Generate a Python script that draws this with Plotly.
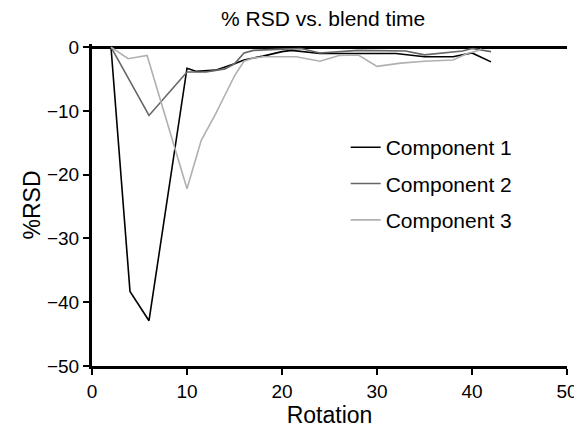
import plotly.graph_objects as go

# ----- data -----
rot_c1 = [2, 4, 6, 10, 11, 13, 15, 16, 18, 20, 21, 24, 28, 32, 35, 38, 40, 42]
rsd_c1 = [0, -38.3, -42.9, -3.3, -3.8, -3.6, -2.6, -2.0, -1.4, -0.7, -0.5, -1.0, -1.0, -1.0, -1.5, -1.5, -0.9, -2.3]

rot_c2 = [2, 6, 10, 12, 14, 15, 16, 17, 20, 22, 24, 28, 33, 35, 39, 40, 42]
rsd_c2 = [0, -10.7, -3.9, -3.9, -3.4, -2.6, -0.9, -0.5, -0.3, -0.2, -0.9, -0.5, -0.6, -1.2, -0.6, -0.2, -0.7]

rot_c3 = [2, 3.8, 5.8, 10, 11.5, 13, 14, 15, 16, 17, 18, 21.5, 24, 26, 28, 30, 32.5, 35, 38, 39.5, 40.5, 41]
rsd_c3 = [0, -1.8, -1.3, -22.2, -14.6, -10.5, -7.5, -4.5, -2.2, -1.7, -1.5, -1.5, -2.2, -1.3, -1.2, -3.0, -2.5, -2.2, -2.0, -1.0, -0.6, -0.3]

names = ['Component 1', 'Component 2', 'Component 3']
colors = ['#000000', '#666666', '#b0b0b0']

fig = go.Figure()
for nm, xs, ys, col in zip(names, [rot_c1, rot_c2, rot_c3], [rsd_c1, rsd_c2, rsd_c3], colors):
    fig.add_trace(go.Scatter(x=xs, y=ys, mode='lines', name=nm, legendgroup=nm,
                             line=dict(color=col, width=1.6)))

# page body has an 8px margin, so the figure is made 8px smaller and margins trimmed
fnt = 'Liberation Sans, Arial, sans-serif'
fig.update_layout(
    width=574, height=423,
    margin=dict(l=84, r=15, t=36, b=65),
    plot_bgcolor='white', paper_bgcolor='white',
    font=dict(family=fnt, size=19, color='black'),
    title=dict(text='% RSD vs. blend time', x=0.549, xanchor='center', y=0.976,
               yanchor='middle', font=dict(size=21)),
    legend=dict(x=0.534, y=0.742, xanchor='left', yanchor='top', tracegroupgap=6,
                bgcolor='rgba(0,0,0,0)', font=dict(size=21)),
    showlegend=True,
)
fig.update_xaxes(range=[0, 50], tickvals=[0, 10, 20, 30, 40, 50], automargin=False,
                 showline=True, linewidth=3, linecolor='black',
                 ticks='outside', ticklen=6, tickwidth=2, tickcolor='black',
                 showgrid=False, zeroline=False,
                 title=dict(text='Rotation', standoff=0))
fig.update_yaxes(range=[-50, 0.5], tickvals=[0, -10, -20, -30, -40, -50], automargin=False,
                 showline=True, linewidth=3, linecolor='black',
                 ticks='outside', ticklen=6, tickwidth=2, tickcolor='black',
                 showgrid=False, zeroline=True, zerolinewidth=3, zerolinecolor='black',
                 title=dict(text='%RSD', standoff=0))

fig.write_html("out.html")
